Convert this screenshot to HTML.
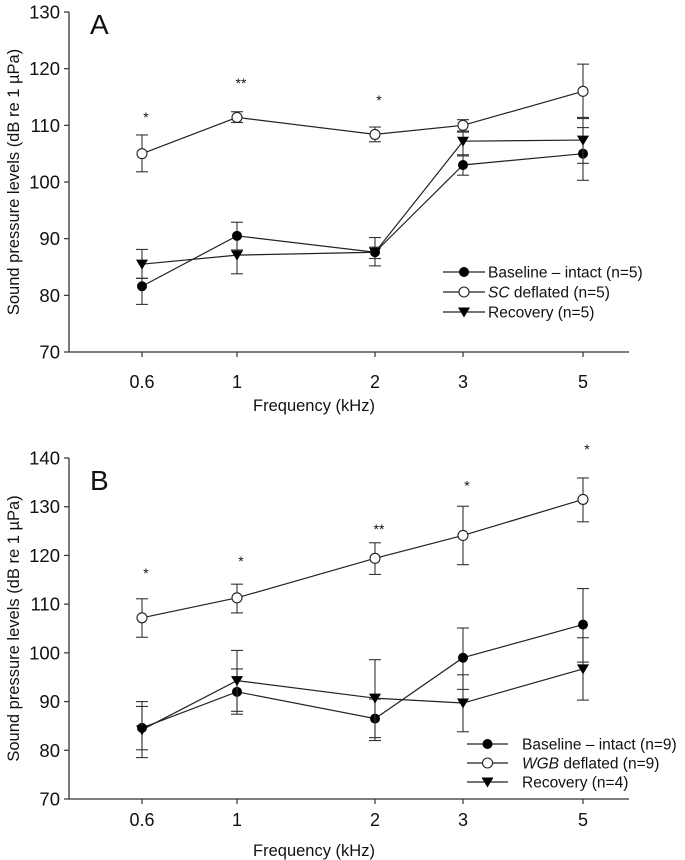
<!DOCTYPE html>
<html><head><meta charset="utf-8"><style>
html,body{margin:0;padding:0;background:#fff;}
svg{display:block;font-family:"Liberation Sans",Arial,sans-serif;}
</style></head><body>
<svg id="c" width="685" height="860" viewBox="0 0 685 860" xmlns="http://www.w3.org/2000/svg"></svg>
<script>
const freqLabels = ["0.6","1","2","3","5"];
const xPix = [142,237,375,463,583]; // category positions
// Panel A data
const aBase = [81.6,90.5,87.6,103.0,105.0];
const aBaseLo = [78.4,88.0,85.2,101.2,100.3];
const aBaseHi = [83.0,92.9,90.2,104.8,109.6];
const aDef = [105.0,111.4,108.4,110.0,116.0];
const aDefLo = [101.8,110.5,107.1,109.0,111.4];
const aDefHi = [108.3,112.4,109.7,111.0,120.8];
const aRec = [85.5,87.1,87.6,107.2,107.4];
const aRecLo = [83.0,83.8,86.5,104.6,103.3];
const aRecHi = [88.1,88.0,88.5,108.8,111.2];
const aStars = ["*","**","*","",""];
const aStarY = [112,118,115,0,0];
const aTicks = [70,80,90,100,110,120,130];
// Panel B data
const bBase = [84.6,92.0,86.5,99.0,105.8];
const bBaseLo = [80.1,87.4,82.6,92.5,98.1];
const bBaseHi = [89.0,96.7,90.5,105.1,113.2];
const bDef = [107.2,111.3,119.4,124.1,131.5];
const bDefLo = [103.2,108.2,116.1,118.1,126.9];
const bDefHi = [111.1,114.1,122.6,130.1,135.9];
const bRec = [84.2,94.3,90.7,89.7,96.7];
const bRecLo = [78.5,88.0,82.0,83.8,90.3];
const bRecHi = [90.0,100.5,98.6,95.5,103.1];
const bStars = ["*","*","**","*","*"];
const bStarY = [117,119.5,126,135,142.5];
const bTicks = [70,80,90,100,110,120,130,140];

const svg=document.getElementById('c');
const NS='http://www.w3.org/2000/svg';
function mk(tag,attrs,parent){const e=document.createElementNS(NS,tag);for(const k in attrs)e.setAttribute(k,attrs[k]);(parent||svg).appendChild(e);return e;}

function panel(cfg){
  const g=mk('g',{});
  
  
  const y=v=>cfg.yBot-(v-cfg.min)/(cfg.max-cfg.min)*(cfg.yBot-cfg.yTop);
  const x=i=>xPix[i];
  const ya=mk('line',{x1:69,y1:cfg.yTop,x2:69,y2:cfg.yBot,stroke:'#333','stroke-width':1.3},g);
  
  
  const xa=mk('line',{x1:69,y1:cfg.yBot,x2:629,y2:cfg.yBot,stroke:'#333','stroke-width':1.3},g);
  
  
  cfg.ticks.forEach(t=>{
    mk('line',{x1:64,y1:y(t),x2:69,y2:y(t),stroke:'#333','stroke-width':1.2},g);
    const tx=mk('text',{x:60,y:y(t)+6.5,'text-anchor':'end','font-size':18.5,fill:'#111'},g);
    tx.textContent=t;
    
    
  });
  freqLabels.forEach((l,i)=>{
    mk('line',{x1:x(i),y1:cfg.yBot,x2:x(i),y2:cfg.yBot+5,stroke:'#333','stroke-width':1.2},g);
    const tx=mk('text',{x:x(i),y:cfg.tickY,'text-anchor':'middle','font-size':18,fill:'#111'},g);
    tx.textContent=l;
    
    
  });
  const xt=mk('text',{x:314,y:cfg.xTitleY,'text-anchor':'middle','font-size':16.5,fill:'#111'},g);
  xt.textContent='Frequency (kHz)';
  
  
  const cy=(cfg.yTop+cfg.yBot)/2;
  const yt=mk('text',{x:0,y:0,'text-anchor':'middle','font-size':16.5,fill:'#111',transform:`translate(19,${cy}) rotate(-90)`},g);
  yt.textContent='Sound pressure levels (dB re 1 µPa)';
  
  
  const pl=mk('text',{x:90,y:cfg.letterY,'font-size':28,fill:'#111'},g);
  pl.textContent=cfg.letter;
  
  
  cfg.series.forEach(s=>{
    const sg=mk('g',{},g);
    
    
    s.vals.forEach((v,i)=>{
      const e1=mk('line',{x1:x(i),y1:y(s.lo[i]),x2:x(i),y2:y(s.hi[i]),stroke:'#333','stroke-width':1.1},sg);
      
      
      mk('line',{x1:x(i)-6,y1:y(s.lo[i]),x2:x(i)+6,y2:y(s.lo[i]),stroke:'#333','stroke-width':1.1},sg);
      mk('line',{x1:x(i)-6,y1:y(s.hi[i]),x2:x(i)+6,y2:y(s.hi[i]),stroke:'#333','stroke-width':1.1},sg);
    });
    const pts=s.vals.map((v,i)=>x(i)+','+y(v)).join(' ');
    const pln=mk('polyline',{points:pts,fill:'none',stroke:'#222','stroke-width':1.2},sg);
    
    
    s.vals.forEach((v,i)=>{
      const m=marker(sg,s.type,x(i),y(v));
      
      
    });
  });
  cfg.stars.forEach((s,i)=>{
    if(!s)return;
    const t=mk('text',{x:x(i)+4,y:y(cfg.starY[i])+8,'text-anchor':'middle','font-size':14,fill:'#111'},g);
    t.textContent=s;
    
    
  });
  const lg=mk('g',{},g);
  
  
  cfg.series.forEach((s,k)=>{
    const ry=cfg.leg.y0+k*cfg.leg.dy;
    const eg=mk('g',{},lg);
    
    
    mk('line',{x1:cfg.leg.x1,y1:ry,x2:cfg.leg.x2,y2:ry,stroke:'#222','stroke-width':1.2},eg);
    marker(eg,s.type,(cfg.leg.x1+cfg.leg.x2)/2,ry);
    const t=mk('text',{x:cfg.leg.tx,y:ry+5.5,'font-size':15.5,fill:'#111'},eg);
    if(s.italic){const a=mk('tspan',{'font-style':'italic'},t);a.textContent=s.italic;const b=mk('tspan',{},t);b.textContent=s.label;}
    else t.textContent=s.label;
  });
}
function marker(p,type,cx,cy){
  if(type==='filled')return mk('circle',{cx,cy,r:5,fill:'#000'},p);
  if(type==='open')return mk('circle',{cx,cy,r:5,fill:'#fff',stroke:'#222','stroke-width':1.1},p);
  return mk('polygon',{points:`${cx-6},${cy-4.5} ${cx+6},${cy-4.5} ${cx},${cy+5.5}`,fill:'#000'},p);
}
panel({name:'panel-a',letter:'A',letterY:34,min:70,max:130,yTop:12,yBot:352,tickY:388,xTitleY:411,ticks:aTicks,
  stars:aStars,starY:aStarY,
  leg:{x1:443,x2:485,tx:488,y0:272,dy:20},
  series:[
    {name:'baseline-intact',type:'filled',vals:aBase,lo:aBaseLo,hi:aBaseHi,label:'Baseline – intact (n=5)'},
    {name:'sc-deflated',type:'open',vals:aDef,lo:aDefLo,hi:aDefHi,italic:'SC',label:' deflated (n=5)'},
    {name:'recovery',type:'tri',vals:aRec,lo:aRecLo,hi:aRecHi,label:'Recovery (n=5)'}
  ]});
panel({name:'panel-b',letter:'B',letterY:490,min:70,max:140,yTop:458,yBot:799,tickY:826,xTitleY:856,ticks:bTicks,
  stars:bStars,starY:bStarY,
  leg:{x1:467,x2:508,tx:522,y0:744,dy:19},
  series:[
    {name:'baseline-intact',type:'filled',vals:bBase,lo:bBaseLo,hi:bBaseHi,label:'Baseline – intact (n=9)'},
    {name:'wgb-deflated',type:'open',vals:bDef,lo:bDefLo,hi:bDefHi,italic:'WGB',label:' deflated (n=9)'},
    {name:'recovery',type:'tri',vals:bRec,lo:bRecLo,hi:bRecHi,label:'Recovery (n=4)'}
  ]});
</script>
</body></html>
